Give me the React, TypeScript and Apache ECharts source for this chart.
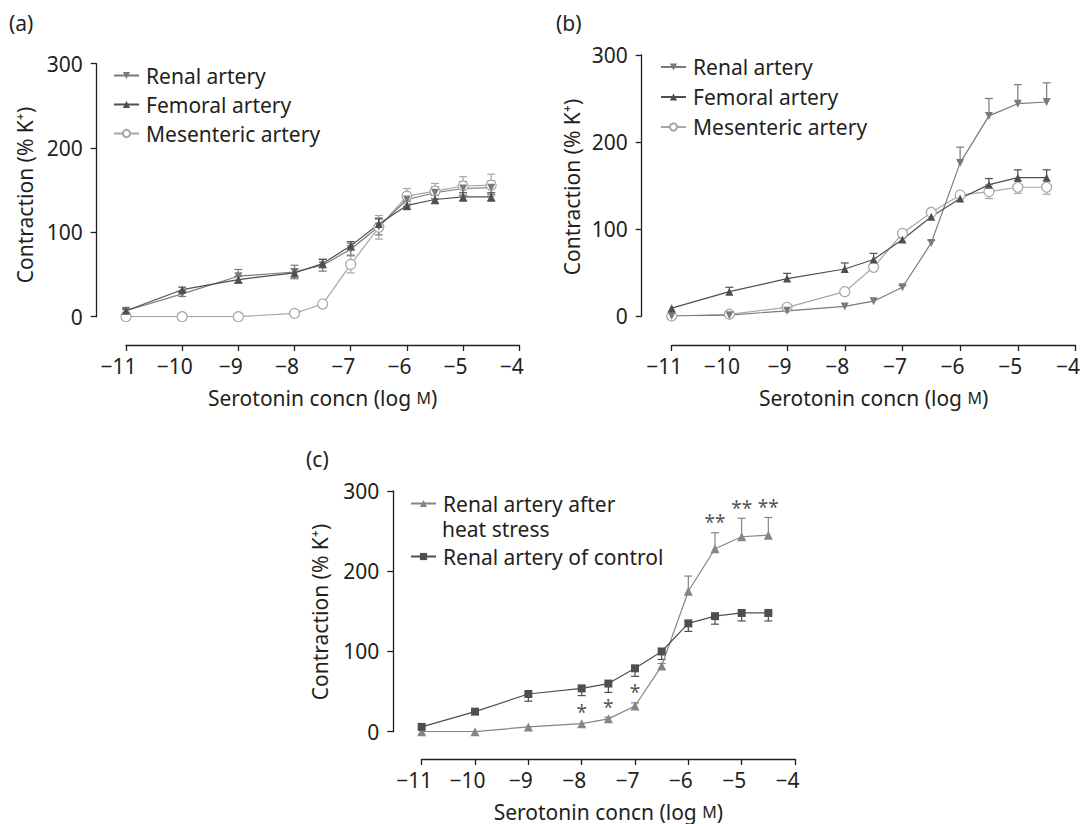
import React, { useEffect, useRef } from "react";
import * as echarts from "echarts";

// Shared concentrations (log M)
const xs = [-11, -10, -9, -8, -7.5, -7, -6.5, -6, -5.5, -5, -4.5];

// Panel (a)
const aRenal = [7, 27, 48, 53, 61, 80, 107, 139, 147, 152, 153];
const aRenalErr = [2, 3, 8, 8, 7, 7, 10, 8, 7, 8, 8];
const aFemoral = [7, 32, 44, 52, 63, 84, 110, 132, 139, 142, 142];
const aFemoralErr = [2, 3, 4, 5, 5, 5, 6, 5, 5, 5, 5];
const aMesenteric = [0, 0, 0, 4, 15, 62, 106, 143, 149, 155, 156];
const aMesentericErr = [0, 0, 0, 0, 1, 10, 14, 9, 9, 11, 13];

// Panel (b)
const bRenal = [0, 1, 6, 11, 17, 33, 84, 176, 230, 244, 246];
const bRenalErr = [0, 1, 1, 1, 1, 2, 3, 18, 20, 22, 22];
const bFemoral = [9, 28, 43, 54, 65, 88, 114, 135, 151, 159, 159];
const bFemoralErr = [1, 5, 6, 7, 7, 2, 2, 2, 7, 9, 9];
const bMesenteric = [0, 2, 10, 28, 56, 95, 119, 139, 143, 148, 148];
const bMesentericErr = [0, 1, 1, 1, 2, 2, 2, 2, 8, 7, 8];

// Panel (c)
const cHeat = [0, 0, 6, 10, 16, 32, 82, 175, 228, 243, 245];
const cHeatErr = [0, 0, 1, 1, 2, 4, 3, 19, 20, 23, 22];
const cControl = [6, 25, 47, 54, 60, 79, 100, 135, 144, 148, 148];
const cControlErr = [1, 1, 9, 9, 11, 10, 10, 10, 10, 10, 10];
const cSig = ["", "", "", "*", "*", "*", "", "", "**", "**", "**"];

const FONT = "Noto Sans";
const FS = 21;
const INK = "#231f20";
const C_RENAL = "#7a7a7a";
const C_FEM = "#4f4f4f";
const C_MES = "#a6a6a6";
const C_HEAT = "#858585";
const C_CTRL = "#4f4f4f";

const fmtTick = (v: number) => (v === 0 ? "0" : v < 0 ? "\u2212" + Math.abs(v) : String(v));

function xAxisFor(gridIndex: number, offset: number) {
  return {
    type: "value",
    gridIndex,
    min: -11,
    max: -4,
    interval: 1,
    offset,
    name: "Serotonin concn (log {sc|M})",
    nameLocation: "middle",
    nameGap: 42,
    nameTextStyle: {
      fontSize: FS,
      color: INK,
      fontFamily: FONT,
      rich: { sc: { fontSize: 16, color: INK, fontFamily: FONT } },
    },
    axisLine: { show: true, onZero: false, lineStyle: { color: INK, width: 1.3 } },
    axisTick: { show: true, length: 6, lineStyle: { color: INK, width: 1.3 } },
    axisLabel: {
      formatter: fmtTick,
      fontSize: FS,
      color: INK,
      fontFamily: FONT,
      margin: 10,
      padding: [0, 15, 0, 0],
    },
    splitLine: { show: false },
  };
}

function yAxisFor(gridIndex: number, offset: number) {
  return {
    type: "value",
    gridIndex,
    min: 0,
    max: 300,
    interval: 100,
    offset,
    axisLine: { show: true, lineStyle: { color: INK, width: 1.3 } },
    axisTick: { show: true, length: 6, lineStyle: { color: INK, width: 1.3 } },
    axisLabel: { formatter: fmtTick, fontSize: FS, color: INK, fontFamily: FONT, margin: 14 },
    splitLine: { show: false },
  };
}

type Dir = "up" | "down" | "both";

function errData(means: number[], errs: number[], dir: Dir) {
  const out: number[][] = [];
  xs.forEach((x, i) => {
    const m = means[i];
    const e = errs[i];
    if (e < 1.5) return;
    const lo = dir === "up" ? m : m - e;
    const hi = dir === "down" ? m : m + e;
    out.push([x, lo, hi, dir === "up" ? 0 : 1, dir === "down" ? 0 : 1]);
  });
  return out;
}

function errSeries(gi: number, means: number[], errs: number[], dir: Dir, color: string) {
  return {
    type: "custom",
    xAxisIndex: gi,
    yAxisIndex: gi,
    z: 1,
    silent: true,
    itemStyle: { color },
    encode: { x: 0, y: [1, 2] },
    data: errData(means, errs, dir),
    renderItem: (params: any, api: any) => {
      const x = api.value(0);
      const pLo = api.coord([x, api.value(1)]);
      const pHi = api.coord([x, api.value(2)]);
      const style = { stroke: color, lineWidth: 1.2, fill: "none" };
      const cw = 4;
      const children: any[] = [
        { type: "line", shape: { x1: pLo[0], y1: pLo[1], x2: pHi[0], y2: pHi[1] }, style },
      ];
      if (api.value(3)) children.push({ type: "line", shape: { x1: pLo[0] - cw, y1: pLo[1], x2: pLo[0] + cw, y2: pLo[1] }, style });
      if (api.value(4)) children.push({ type: "line", shape: { x1: pHi[0] - cw, y1: pHi[1], x2: pHi[0] + cw, y2: pHi[1] }, style });
      return { type: "group", children };
    },
  };
}

function lineSeries(
  gi: number,
  name: string,
  values: number[],
  color: string,
  symbol: string,
  size: number,
  opts: { rotate?: number; hollow?: boolean } = {}
) {
  return {
    type: "line",
    name,
    xAxisIndex: gi,
    yAxisIndex: gi,
    z: 3,
    data: xs.map((x, i) => [x, values[i]]),
    symbol,
    symbolSize: size,
    symbolRotate: opts.rotate || 0,
    showAllSymbol: true,
    lineStyle: { color, width: 1.2 },
    itemStyle: opts.hollow
      ? { color: "#ffffff", borderColor: color, borderWidth: 1.2 }
      : { color, borderColor: color, borderWidth: 0 },
    emphasis: { disabled: true },
  };
}

function legendFor(left: number, top: number, gap: number, names: string[]) {
  return {
    show: true,
    orient: "vertical",
    left,
    top,
    padding: 0,
    itemGap: gap,
    itemWidth: 25,
    itemHeight: 9,
    selectedMode: false,
    data: names,
    textStyle: { fontSize: FS, color: INK, fontFamily: FONT, lineHeight: 20, padding: [0, 0, 0, 2] },
  };
}

function yName(x: number, y: number) {
  return {
    type: "text",
    x,
    y,
    rotation: Math.PI / 2,
    style: {
      text: "Contraction (% K\u207A)",
      fontSize: FS,
      fontFamily: FONT,
      fill: INK,
      align: "center",
      verticalAlign: "middle",
    },
  };
}

function plainText(text: string, x: number, y: number) {
  return {
    type: "text",
    x,
    y,
    style: { text, fontSize: FS, fontFamily: FONT, fill: INK, align: "left", verticalAlign: "middle" },
  };
}

export default function App() {
  const ref = useRef<HTMLDivElement>(null);
  useEffect(() => {
    document.body.style.margin = "0";
    if (!ref.current) return;
    const chart = echarts.init(ref.current, undefined, { renderer: "svg" });

    const starData = xs
      .map((x, i) => [x, cHeat[i] + cHeatErr[i], cSig[i]] as any[])
      .filter((d, i) => cSig[i] !== "");

    const option: any = {
      animation: false,
      backgroundColor: "#ffffff",
      textStyle: { fontFamily: FONT, color: INK },
      grid: [
        { left: 126, right: 1083 - 519.3, top: 63.7, bottom: 824 - 316.7, containLabel: false },
        { left: 671.7, right: 1083 - 1076.7, top: 55, bottom: 824 - 316, containLabel: false },
        { left: 421.7, right: 1083 - 795, top: 491, bottom: 824 - 731.7, containLabel: false },
      ],
      xAxis: [xAxisFor(0, 28.3), xAxisFor(1, 29), xAxisFor(2, 27.3)],
      yAxis: [yAxisFor(0, 29.3), yAxisFor(1, 30), yAxisFor(2, 28.4)],
      legend: [
        legendFor(113, 65, 8, ["Renal artery", "Femoral artery", "Mesenteric artery"]),
        legendFor(660, 56.5, 9, ["Renal artery ", "Femoral artery ", "Mesenteric artery "]),
        legendFor(410, 493, 32, ["Renal artery after", "Renal artery of control"]),
      ],
      graphic: [
        plainText("(a)", 9, 23),
        plainText("(b)", 556, 23),
        plainText("(c)", 306, 459),
        yName(25, 195),
        yName(572, 187),
        yName(320, 612),
        plainText("heat stress", 442, 529),
      ],
      series: [
        // (a)
        errSeries(0, aMesenteric, aMesentericErr, "both", C_MES),
        errSeries(0, aRenal, aRenalErr, "both", C_RENAL),
        errSeries(0, aFemoral, aFemoralErr, "both", C_FEM),
        lineSeries(0, "Mesenteric artery", aMesenteric, C_MES, "circle", 10, { hollow: true }),
        lineSeries(0, "Renal artery", aRenal, C_RENAL, "triangle", 8, { rotate: 180 }),
        lineSeries(0, "Femoral artery", aFemoral, C_FEM, "triangle", 8),
        // (b)
        errSeries(1, bMesenteric, bMesentericErr, "both", C_MES),
        errSeries(1, bRenal, bRenalErr, "up", C_RENAL),
        errSeries(1, bFemoral, bFemoralErr, "up", C_FEM),
        lineSeries(1, "Mesenteric artery ", bMesenteric, C_MES, "circle", 10, { hollow: true }),
        lineSeries(1, "Renal artery ", bRenal, C_RENAL, "triangle", 8, { rotate: 180 }),
        lineSeries(1, "Femoral artery ", bFemoral, C_FEM, "triangle", 8),
        // (c)
        errSeries(2, cHeat, cHeatErr, "up", C_HEAT),
        errSeries(2, cControl, cControlErr, "down", C_CTRL),
        lineSeries(2, "Renal artery after", cHeat, C_HEAT, "triangle", 9),
        lineSeries(2, "Renal artery of control", cControl, C_CTRL, "rect", 8),
        {
          type: "scatter",
          xAxisIndex: 2,
          yAxisIndex: 2,
          symbolSize: 0,
          silent: true,
          data: starData,
          label: {
            show: true,
            position: "top",
            distance: 1,
            formatter: (p: any) => p.value[2],
            fontSize: 19,
            color: INK,
            fontFamily: FONT,
          },
        },
      ],
    };
    chart.setOption(option);
    return () => chart.dispose();
  }, []);
  return <div ref={ref} style={{ width: 1083, height: 824 }} />;
}
